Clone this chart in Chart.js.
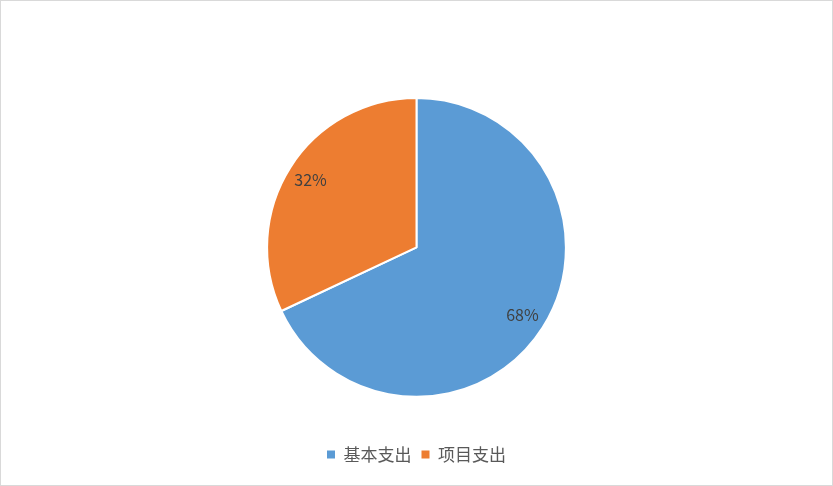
<!DOCTYPE html>
<html>
<head>
<meta charset="utf-8">
<script src="https://cdn.jsdelivr.net/npm/chart.js@4/dist/chart.umd.min.js"></script>
<style>
  html, body { margin: 0; padding: 0; background: #fff; }
  .frame { width: 833px; height: 486px; box-sizing: border-box; border: 1px solid #d9d9d9; }
  .frame canvas { display: block; }
</style>
</head>
<body>
<div class="frame"><canvas id="pieChart" width="831" height="484"></canvas></div>
<script>
const categories = ["基本支出", "项目支出"];
const shares = [68, 32];
const colors = ["#5B9BD5", "#ED7D31"];

// percentage labels inside the slices
const sliceLabels = {
    id: "sliceLabels",
    afterDatasetsDraw(chart) {
        const ctx = chart.ctx;
        const meta = chart.getDatasetMeta(0);
        ctx.save();
        ctx.font = "16px 'Noto Sans CJK SC', sans-serif";
        ctx.fillStyle = "#404040";
        ctx.textAlign = "center";
        ctx.textBaseline = "middle";
        meta.data.forEach(function (arc, i) {
            const p = arc.getProps(["x", "y", "startAngle", "endAngle", "outerRadius"], true);
            const mid = (p.startAngle + p.endAngle) / 2;
            const r = p.outerRadius * 0.84;
            ctx.fillText(shares[i] + "%", p.x + Math.cos(mid) * r, p.y + Math.sin(mid) * r);
        });
        ctx.restore();
    }
};

document.addEventListener("DOMContentLoaded", function () {
    const ctx = document.getElementById("pieChart").getContext("2d");
    const baseLabels = Chart.controllers.pie.overrides.plugins.legend.labels.generateLabels;
    new Chart(ctx, {
        type: "pie",
        data: {
            labels: categories,
            datasets: [{
                data: shares,
                backgroundColor: colors,
                borderColor: "#ffffff",
                borderWidth: 2
            }]
        },
        options: {
            responsive: false,
            animation: false,
            layout: { padding: { top: 96, bottom: 12 } },
            plugins: {
                tooltip: { enabled: false },
                legend: {
                    position: "bottom",
                    // empty title only used as a spacer above the legend row
                    title: { display: true, text: "", font: { size: 1 }, padding: { top: 0, bottom: 37 } },
                    labels: {
                        boxWidth: 8,
                        boxHeight: 8,
                        padding: 10,
                        color: "#595959",
                        font: { family: "'Noto Sans CJK SC', sans-serif", size: 17 },
                        generateLabels: function (chart) {
                            return baseLabels(chart).map(function (item) {
                                item.lineWidth = 0;
                                item.strokeStyle = item.fillStyle;
                                return item;
                            });
                        }
                    }
                }
            }
        },
        plugins: [sliceLabels]
    });
});
</script>
</body>
</html>
